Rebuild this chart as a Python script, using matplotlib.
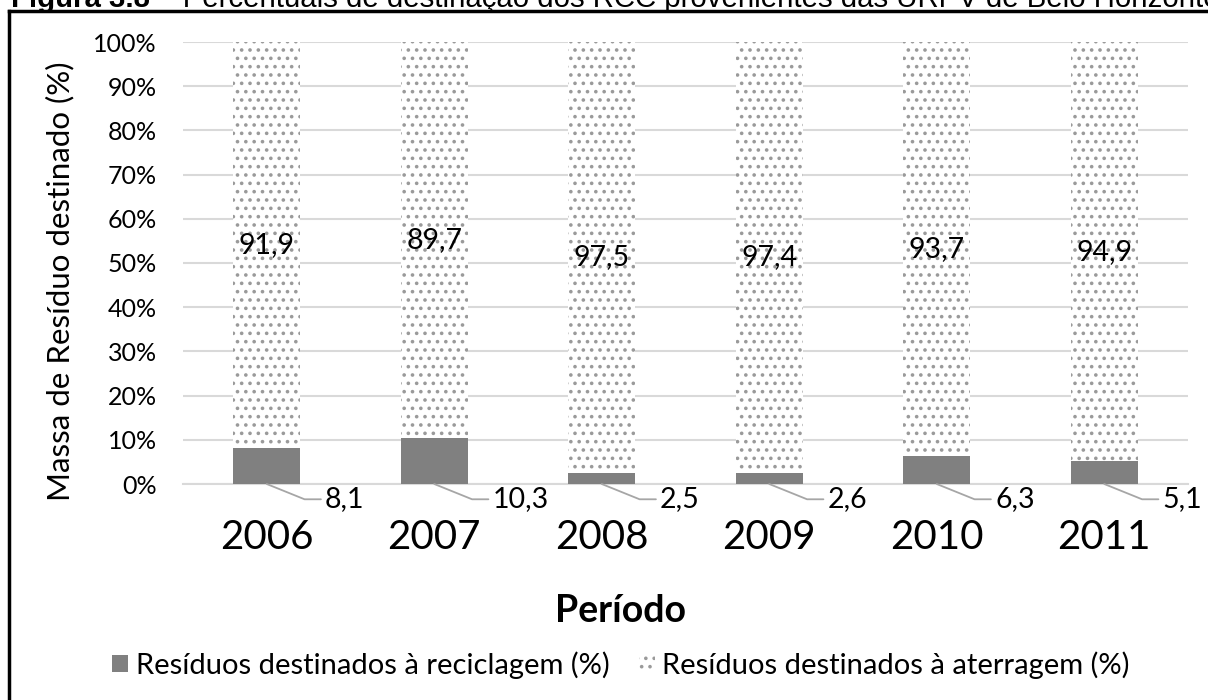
import matplotlib
matplotlib.use("Agg")
import matplotlib.pyplot as plt
from matplotlib.lines import Line2D
from matplotlib.patches import Patch
import numpy as np

years = ["2006", "2007", "2008", "2009", "2010", "2011"]
reciclagem = [8.1, 10.3, 2.5, 2.6, 6.3, 5.1]
aterragem = [91.9, 89.7, 97.5, 97.4, 93.7, 94.9]
yticks = [0, 10, 20, 30, 40, 50, 60, 70, 80, 90, 100]

plt.rcParams["font.family"] = ["Lato", "DejaVu Sans"]
plt.rcParams["hatch.linewidth"] = 1.4

GRAY = "#808080"
DOTS = "#9a9a9a"
W, H = 1208, 700
fig = plt.figure(figsize=(W / 100, H / 100), dpi=100)
ax = fig.add_axes([183 / W, 1 - 484 / H, (1188 - 183) / W, (484 - 42) / H])

x = np.arange(len(years))
width = 0.4
ax.bar(x, reciclagem, width, color=GRAY, linewidth=0, zorder=3)
ax.bar(x, aterragem, width, bottom=reciclagem, color="white", edgecolor=DOTS,
       hatch="..", linewidth=0, zorder=3)

# labels for the landfill part, centred in the segment
for i, (r, a) in enumerate(zip(reciclagem, aterragem)):
    ax.text(i, r + a / 2, f"{a:.1f}".replace(".", ","), ha="center", va="center",
            fontsize=20.5, zorder=5)
    ax.annotate(f"{r:.1f}".replace(".", ","), xy=(i, 0), xytext=(42, -11),
                textcoords="offset points", ha="left", va="center", fontsize=20.5,
                annotation_clip=False,
                arrowprops=dict(arrowstyle="-", color="#a6a6a6", lw=1.3,
                                shrinkA=1, shrinkB=0,
                                connectionstyle="angle,angleA=0,angleB=-22,rad=0"))

ax.set_xlim(-0.5, len(years) - 0.5)
ax.set_ylim(0, 100)
ax.set_yticks(yticks)
ax.set_yticklabels([f"{t}%" for t in yticks], fontsize=18)
ax.set_xticks(x)
ax.set_xticklabels(years, fontsize=29)
ax.tick_params(axis="both", length=0)
ax.tick_params(axis="y", pad=19)
ax.tick_params(axis="x", pad=25)
ax.grid(True, axis="y", color="#d9d9d9", linewidth=1.5, zorder=0)
for s in ["top", "right", "left"]:
    ax.spines[s].set_visible(False)
ax.spines["bottom"].set_color("#d9d9d9")
ax.spines["bottom"].set_linewidth(1.5)

fig.text(60 / W, 1 - 281 / H, "Massa de Resíduo destinado (%)", rotation=90,
         ha="center", va="center", fontsize=22.5)
fig.text(620 / W, 1 - 611 / H, "Período", ha="center", va="center",
         fontsize=27, fontweight="bold")

handles = [Patch(facecolor=GRAY, edgecolor=GRAY, linewidth=0),
           Patch(facecolor="white", edgecolor=DOTS, hatch="..", linewidth=0)]
fig.legend(handles, ["Resíduos destinados à reciclagem (%)", "Resíduos destinados à aterragem (%)"],
           loc="center", bbox_to_anchor=(621 / W, 1 - 665 / H), ncol=2, frameon=False,
           fontsize=21, handlelength=0.55, handleheight=0.55, handletextpad=0.25,
           columnspacing=1.0)

# frame around the chart (cut on the right and bottom)
fig.add_artist(Line2D([8.5 / W, 8.5 / W], [0, 1 - 11 / H], color="black", lw=2.5))
fig.add_artist(Line2D([8.5 / W, 1], [1 - 11 / H, 1 - 11 / H], color="black", lw=2.5))

# caption, cut at the top of the image
r = fig.canvas.get_renderer()
t1 = fig.text(11 / W, 1 - 7 / H, "Figura 3.8", fontsize=21.2, fontweight="bold",
              family="Liberation Sans", va="baseline")
bb = t1.get_window_extent(r)
fig.text(bb.x1 / W, 1 - 7 / H, " – Percentuais de destinação dos RCC provenientes das URPV de Belo Horizonte",
         fontsize=21.2, family="Liberation Sans", va="baseline")

fig.savefig("out.png", dpi=100)
